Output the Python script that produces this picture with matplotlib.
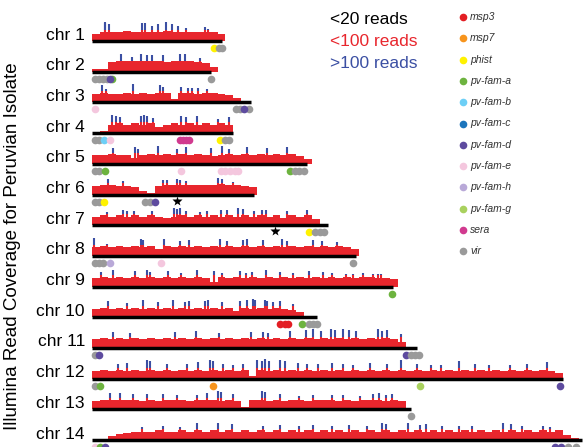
# Read coverage along the 14 chromosomes, Peruvian isolate
import matplotlib
matplotlib.use('Agg')
import matplotlib.pyplot as plt

plt.rcParams['font.family'] = ['Liberation Sans', 'DejaVu Sans']

W, H = 583, 447
PX_PER_MB = 157.0
X0 = 92            # pixel where every chromosome starts
READS_PER_PX = 9.0
BIN = 0.05         # Mb per bin of the red profile
UNIT = 11          # reads per digit of the red profile

RED = '#e8262d'
BLUE = '#3b4fa3'

CHROMS = ['chr 1', 'chr 2', 'chr 3', 'chr 4', 'chr 5', 'chr 6', 'chr 7',
          'chr 8', 'chr 9', 'chr 10', 'chr 11', 'chr 12', 'chr 13', 'chr 14']
CHR_LEN = [0.83, 0.76, 1.01, 0.90, 1.37, 1.03, 1.50, 1.68, 1.92, 1.43, 2.07, 3.00, 2.03, 3.12]

# coverage per 0.05 Mb bin, in units of 11 reads
RED_PROFILE = [
    "67778777787777776",
    "2289999998999874",
    "787787878838878876410",
    "027878785787878787",
    "7787757878787876787878787864",
    "788776317888888898876",
    "787878787678787878787878687850",
    "7878787868787878787878787878787876",
    "787878787878787487878787878787878788776",
    "787878787878787878587878764",
    "7878787878787878787878787878787878787875",
    "676767676767676767672767676767676767676767676767676767676765",
    "7888887878887888787288787887888787888787",
    "01356777877878787878787878787878787878787878787878787878787842",
]

# (position Mb, reads) of the tall peaks
SPIKES = [
    [(0.08, 171), (0.085, 162), (0.11, 153), (0.32, 162), (0.34, 162), (0.38, 135), (0.42, 153),
     (0.47, 171), (0.51, 153), (0.55, 135), (0.60, 117), (0.72, 126), (0.74, 108)],
    [(0.185, 162), (0.255, 135), (0.31, 162), (0.35, 153), (0.38, 153), (0.45, 153), (0.56, 162),
     (0.59, 162), (0.69, 126)],
    [(0.064, 153), (0.09, 117), (0.26, 162), (0.43, 153), (0.45, 135), (0.57, 135), (0.61, 126),
     (0.635, 126), (0.675, 126), (0.73, 117)],
    [(0.13, 162), (0.15, 153), (0.18, 144), (0.31, 153), (0.33, 162), (0.35, 153), (0.39, 135),
     (0.57, 153), (0.60, 144), (0.67, 153), (0.80, 126), (0.87, 144)],
    [(0.135, 144), (0.275, 153), (0.29, 135), (0.42, 162), (0.54, 135), (0.60, 153), (0.76, 144),
     (0.83, 162), (0.87, 135), (0.99, 153), (1.115, 144), (1.24, 153)],
    [(0.10, 144), (0.20, 126), (0.45, 135), (0.48, 135), (0.54, 144), (0.56, 135), (0.60, 126),
     (0.80, 153), (0.83, 144), (0.90, 117)],
    [(0.095, 117), (0.20, 135), (0.22, 126), (0.27, 126), (0.38, 126), (0.52, 153), (0.54, 144),
     (0.56, 153), (0.60, 126), (0.69, 117), (0.73, 126), (0.82, 135), (0.86, 135), (0.93, 153),
     (0.96, 144), (1.03, 126), (1.08, 135), (1.11, 135), (1.24, 126), (1.37, 135)],
    [(0.01, 162), (0.095, 108), (0.31, 153), (0.325, 144), (0.46, 153), (0.56, 135), (0.62, 144),
     (0.815, 153), (0.86, 135), (0.96, 144), (0.99, 153), (1.09, 144), (1.21, 153), (1.24, 135),
     (1.41, 144), (1.465, 135), (1.56, 126)],
    [(0.06, 135), (0.135, 153), (0.275, 144), (0.35, 153), (0.37, 135), (0.485, 144), (0.57, 126),
     (0.67, 153), (0.78, 144), (0.83, 126), (0.94, 144), (0.98, 126), (1.02, 135), (1.11, 153),
     (1.20, 135), (1.28, 126), (1.38, 144), (1.47, 135), (1.53, 126), (1.62, 117), (1.66, 117),
     (1.725, 126), (1.79, 117), (1.82, 117), (1.84, 117)],
    [(0.10, 144), (0.22, 126), (0.325, 153), (0.42, 135), (0.515, 153), (0.59, 135), (0.62, 144),
     (0.72, 144), (0.74, 153), (0.83, 135), (0.94, 144), (0.99, 153), (1.025, 162), (1.04, 153),
     (1.10, 153), (1.115, 144), (1.15, 135), (1.20, 144), (1.28, 117)],
    [(0.135, 144), (0.245, 135), (0.53, 144), (0.66, 153), (0.81, 135), (1.01, 144), (1.09, 144),
     (1.12, 135), (1.26, 153), (1.36, 162), (1.41, 171), (1.46, 153), (1.52, 171), (1.55, 162),
     (1.60, 171), (1.64, 162), (1.68, 153), (1.82, 171), (1.85, 153), (1.88, 162), (1.97, 126)],
    [(0.165, 135), (0.22, 144), (0.35, 171), (0.37, 162), (0.48, 135), (0.605, 135), (0.675, 153),
     (0.75, 171), (0.77, 162), (0.835, 135), (0.90, 126), (0.96, 135), (1.05, 171), (1.08, 162),
     (1.10, 180), (1.13, 162), (1.20, 171), (1.23, 162), (1.31, 144), (1.37, 135), (1.44, 135),
     (1.53, 144), (1.60, 135), (1.66, 126), (1.77, 144), (1.88, 135), (1.97, 171), (2.07, 135),
     (2.16, 126), (2.22, 126), (2.34, 162), (2.44, 135), (2.53, 126), (2.66, 126), (2.77, 135),
     (2.90, 153)],
    [(0.115, 144), (0.18, 144), (0.26, 135), (0.35, 135), (0.45, 135), (0.54, 126), (0.67, 126),
     (0.73, 144), (0.80, 162), (0.82, 153), (0.90, 135), (1.08, 162), (1.10, 153), (1.20, 135),
     (1.32, 117), (1.41, 126), (1.53, 126), (1.60, 126), (1.71, 117), (1.79, 135), (1.83, 144),
     (1.87, 126), (1.91, 135)],
    [(0.32, 117), (0.45, 126), (0.56, 117), (0.67, 153), (0.80, 153), (0.89, 144), (1.09, 126),
     (1.20, 135), (1.32, 126), (1.41, 135), (1.53, 126), (1.64, 135), (1.75, 126), (1.85, 153),
     (1.87, 144), (2.01, 153), (2.09, 135), (2.13, 144), (2.23, 126), (2.34, 126), (2.42, 126),
     (2.62, 153), (2.67, 144), (2.74, 126), (2.87, 126), (2.92, 117)],
]

# gene family locations (Mb)
GENES = [
    [(0.78, 'phist'), (0.81, 'vir'), (0.83, 'vir')],
    [(0.02, 'vir'), (0.045, 'vir'), (0.07, 'vir'), (0.095, 'vir'), (0.13, 'pv-fam-a'),
     (0.115, 'pv-fam-d'), (0.76, 'vir')],
    [(0.02, 'pv-fam-e'), (0.92, 'vir'), (0.945, 'vir'), (1.0, 'vir'), (0.97, 'pv-fam-d')],
    [(0.02, 'vir'), (0.045, 'vir'), (0.075, 'pv-fam-b'), (0.115, 'pv-fam-e'), (0.56, 'sera'),
     (0.58, 'sera'), (0.60, 'sera'), (0.62, 'sera'), (0.815, 'phist'), (0.85, 'vir'), (0.87, 'vir')],
    [(0.02, 'vir'), (0.045, 'vir'), (0.08, 'pv-fam-a'), (0.57, 'pv-fam-e'), (0.82, 'pv-fam-e'),
     (0.85, 'pv-fam-e'), (0.88, 'pv-fam-e'), (0.91, 'pv-fam-e'), (0.93, 'pv-fam-e'),
     (1.26, 'pv-fam-a'), (1.29, 'vir'), (1.32, 'vir'), (1.35, 'vir')],
    [(0.02, 'vir'), (0.045, 'vir'), (0.075, 'phist'), (0.34, 'vir'), (0.37, 'vir'), (0.40, 'pv-fam-d')],
    [(1.38, 'phist'), (1.42, 'vir'), (1.45, 'vir'), (1.48, 'vir')],
    [(0.02, 'vir'), (0.045, 'vir'), (0.07, 'vir'), (0.115, 'pv-fam-h'), (0.44, 'pv-fam-e'), (1.66, 'vir')],
    [(1.91, 'pv-fam-a')],
    [(1.20, 'msp3'), (1.23, 'msp3'), (1.25, 'msp3'), (1.34, 'pv-fam-a'), (1.38, 'vir'),
     (1.405, 'vir'), (1.43, 'vir')],
    [(0.02, 'vir'), (0.045, 'pv-fam-d'), (2.0, 'pv-fam-d'), (2.03, 'vir'), (2.055, 'vir'), (2.08, 'vir')],
    [(0.02, 'vir'), (0.05, 'pv-fam-a'), (0.77, 'msp7'), (2.09, 'pv-fam-g'), (2.98, 'pv-fam-d')],
    [(2.03, 'vir')],
    [(0.02, 'pv-fam-e'), (0.05, 'pv-fam-a'), (0.08, 'pv-fam-d'), (2.95, 'pv-fam-d'),
     (2.99, 'pv-fam-d'), (3.03, 'vir'), (3.08, 'vir')],
]

# asterisks: (chromosome index, Mb)
STARS = [(5, 0.54), (6, 1.165)]

FAMILIES = ['msp3', 'msp7', 'phist', 'pv-fam-a', 'pv-fam-b', 'pv-fam-c', 'pv-fam-d',
            'pv-fam-e', 'pv-fam-h', 'pv-fam-g', 'sera', 'vir']
FAM_COLORS = ['#e31e24', '#f7941d', '#fff200', '#6db33f', '#6dcff6', '#1c75bc', '#5e4b9f',
              '#f4c7de', '#b9a9d8', '#a9d15e', '#d13a8f', '#9a9a9a']
fam_color = dict(zip(FAMILIES, FAM_COLORS))

READ_CLASSES = ['<20 reads', '<100 reads', '>100 reads']
READ_COLORS = ['black', RED, BLUE]

fig = plt.figure(figsize=(W / 100, H / 100), dpi=100)

for i, name in enumerate(CHROMS):
    base = 41 + 30.7 * i          # baseline, pixels from top
    ax = fig.add_axes([0, (H - base - 14) / H, 1, 46 / H])
    ax.set_xlim(-X0 / PX_PER_MB, (W - X0) / PX_PER_MB)
    ax.set_ylim(-14 * READS_PER_PX, 32 * READS_PER_PX)
    ax.axis('off')

    prof = [int(c) * UNIT for c in RED_PROFILE[i]]
    edges = [BIN * j for j in range(len(prof) + 1)]
    ax.stairs(prof, edges, fill=True, color=RED, baseline=0, lw=0)

    sx = [s[0] for s in SPIKES[i]]
    sh = [s[1] for s in SPIKES[i]]
    ax.vlines(sx, 0, [min(h, 100) for h in sh], color=RED, lw=1.5)
    ax.vlines(sx, 100, sh, color=BLUE, lw=1.5)

    ax.plot([0, CHR_LEN[i]], [0, 0], color='black', lw=2.5, solid_capstyle='butt')

    for pos, fam in GENES[i]:
        ax.plot(pos, -7 * READS_PER_PX, 'o', ms=5.5, color=fam_color[fam], mec='none')

    for ci, pos in STARS:
        if ci == i:
            ax.plot(pos, -6 * READS_PER_PX, marker='*', color='black', ms=7, mec='none')

    ax.text(-7 / PX_PER_MB, 6 * READS_PER_PX, name, ha='right', va='center', fontsize=12.5)

# legends and axis title, placed in pixel space
lax = fig.add_axes([0, 0, 1, 1], zorder=-1)
lax.set_xlim(0, W)
lax.set_ylim(H, 0)
lax.axis('off')

for k, (lab, col) in enumerate(zip(READ_CLASSES, READ_COLORS)):
    lax.text(330, 20 + 21.5 * k, lab, color=col, fontsize=12.5, ha='left', va='center')

for k, fam in enumerate(FAMILIES):
    y = 17 + 21.3 * k
    lax.plot(463, y, 'o', ms=5.5, color=fam_color[fam], mec='none')
    lax.text(470, y, fam, fontsize=7.5, style='italic', color='#333333', ha='left', va='center')

lax.text(13, 246, 'Illumina Read Coverage for Peruvian Isolate', rotation=90,
         ha='center', va='center', fontsize=13.5)

fig.savefig('out.png', dpi=100)
